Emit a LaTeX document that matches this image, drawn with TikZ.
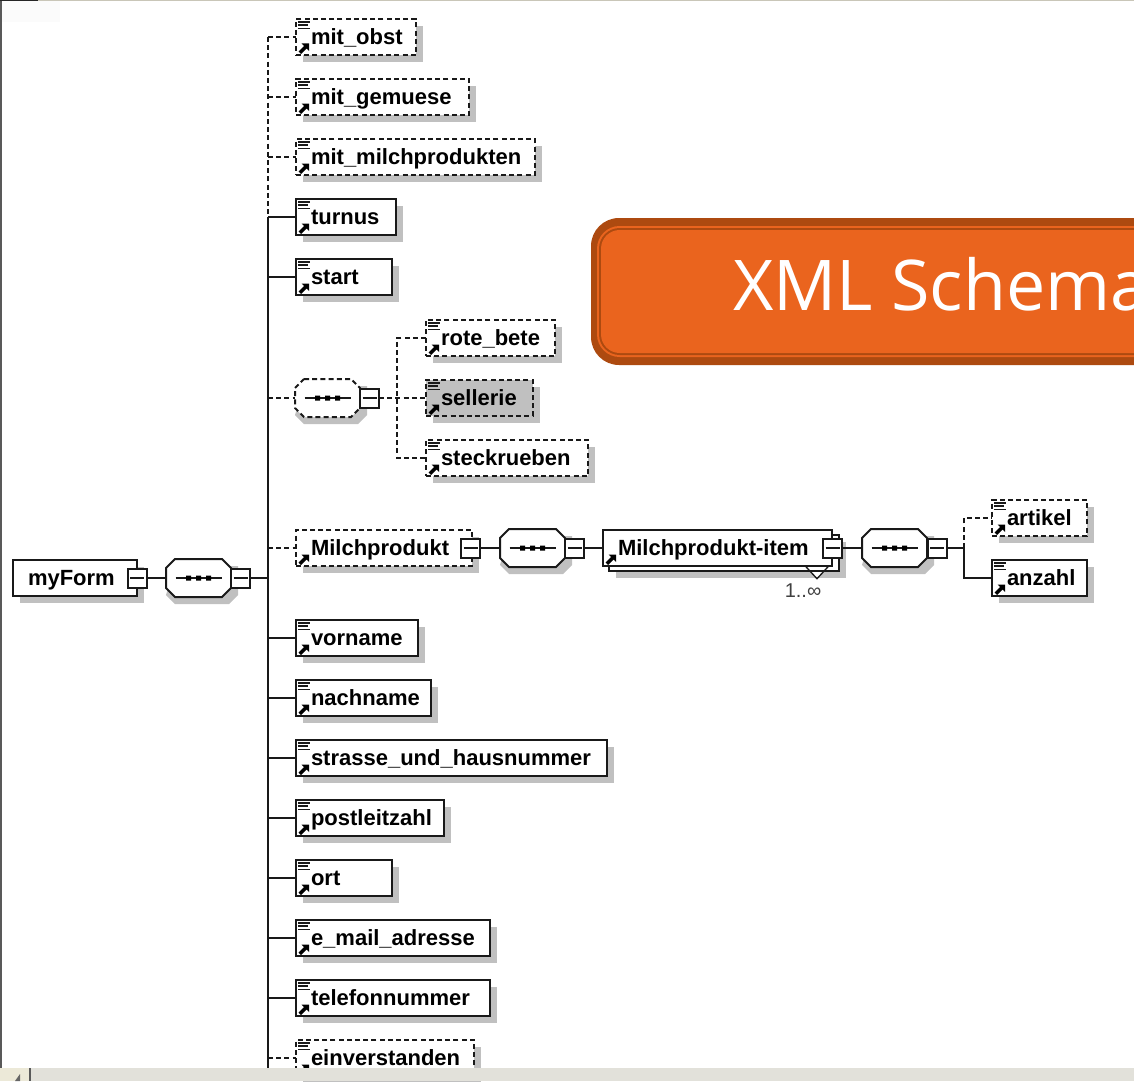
\documentclass[tikz,border=0pt]{standalone}
\usepackage{fontspec}
\setmainfont{Liberation Sans}
\newfontfamily\bannerfont{Open Sans}
\usetikzlibrary{shadows,shapes.geometric}
\definecolor{shadowgray}{HTML}{C0C0C0}
\definecolor{bannerdark}{HTML}{AD4A10}
\definecolor{bannermain}{HTML}{EA641E}
\definecolor{barbg}{HTML}{E2E1DA}
\definecolor{btnbg}{HTML}{ECE9D8}
\tikzset{
  x=0.75pt,y=-0.75pt,
  wire/.style={line width=1.5pt,draw=black!90},
  dwire/.style={wire,dash pattern=on 3.75pt off 2.4pt},
  shadowed/.style={drop shadow={shadow xshift=5.25pt,shadow yshift=-5.25pt,fill=shadowgray,opacity=1}},
  elembox/.style={rectangle,draw=black!90,line width=1.5pt,fill=white,shadowed,outer sep=0pt,
    minimum height=27pt,inner xsep=11.25pt,inner ysep=0pt,anchor=west,align=left,
    font=\fontsize{16.5}{19}\selectfont\bfseries},
  optbox/.style={elembox,dash pattern=on 3.75pt off 2.4pt},
  seqanchor/.style={rectangle,draw=none,fill=none,outer sep=0pt,inner sep=0pt,minimum width=48.75pt,minimum height=28.5pt,anchor=west},
  octline/.style={line width=1.5pt,draw=black!90,fill=white},
  octdash/.style={octline,dash pattern=on 3.75pt off 2.4pt},
  minusbox/.style={rectangle,draw=black!90,line width=1.5pt,fill=white,outer sep=0pt,minimum width=14.25pt,minimum height=14.25pt,inner sep=0pt,anchor=west},
  inline/.style={line width=1.1pt,draw=black!90},
}
\newcommand{\XTEXT}{}
\newcommand{\xelem}[5][elembox]{%
  \pgfmathsetlengthmacro{\xtw}{(#5-30)*0.75pt}%
  \pgfmathsetlengthmacro{\xmw}{#5*0.75pt}%
  \node[#1,minimum width=\xmw,text width=\xtw] (#2) at (#3,#4) {\strut\raisebox{-1.9pt}{\XTEXT}};}
\newcommand{\docicon}[1]{\begin{scope}[shift={(#1.west)}]
  \draw[inline] (2,-15) -- (14,-15) (2,-12) -- (12,-12) (2,-8.5) -- (14,-8.5);
  \end{scope}}
\newcommand{\arrowicon}[1]{\begin{scope}[shift={(#1.west)}]
  \fill[black] (13,6.5) -- (13,14) -- (10.7,11.5) -- (5,17) -- (2.5,14.5) -- (8,9) -- (5.5,6.5) -- cycle;
  \end{scope}}
\newcommand{\octa}[4][octline]{%
  \node[seqanchor] (#2) at (#3,#4) {};
  \begin{scope}[shift={(#2.center)}]
  \fill[shadowgray] (-23.5,-12) -- (23.5,-12) -- (39.5,-12) -- (39.5,17) -- (30.5,26) -- (-23.5,26) -- (-32.5,17) -- cycle;
  \path[#1] (-23.5,-19) -- (23.5,-19) -- (32.5,-10) -- (32.5,10) -- (23.5,19) -- (-23.5,19) -- (-32.5,10) -- (-32.5,-10) -- cycle;
  \draw[inline] (-23,0) -- (23,0);
  \fill[black] (-12.5,-2.5) rectangle (-7.5,2.5) (-2.5,-2.5) rectangle (2.5,2.5) (7.5,-2.5) rectangle (12.5,2.5);
  \end{scope}}
\newcommand{\minusicon}[1]{\draw[inline] ([xshift=-5.25pt]#1.center) -- ([xshift=5.25pt]#1.center);}
\newcommand{\rowel}[5][elembox]{\renewcommand{\XTEXT}{#5}\xelem[#1]{#2}{296}{#3}{#4}%
  \docicon{#2}\arrowicon{#2}}
\begin{document}
\begin{tikzpicture}
\useasboundingbox (0,0) rectangle (1134,1081);
\clip (0,0) rectangle (1134,1081);
\fill[white] (0,0) rectangle (1134,1081);
\fill[black!1.5] (0,0) rectangle (60,22);

% trunk
\coordinate (trunk) at (268,0);
\coordinate (trunkend) at (268,1068);

% banner
\path[fill=bannerdark,rounded corners=21pt] (591,218) rectangle (1190,365);
\path[fill=bannermain,rounded corners=17pt] (597,226) rectangle (1190,357);
\path[fill=bannerdark,rounded corners=15.5pt] (599,228) rectangle (1190,355);
\path[fill=bannermain,rounded corners=14pt] (601,230) rectangle (1190,353);
\node[anchor=base west,text=white,inner sep=0pt,font=\bannerfont\fontsize{52.5}{60}\selectfont] (banner) at (733,310) {XML Schema};

% root
\renewcommand{\XTEXT}{myForm}
\xelem{root}{13}{578}{124}
\octa{seqa}{166}{578}
\node[minusbox] (rootm) at (127.5,578) {};
\minusicon{rootm}
\node[minusbox] (seqam) at (231,578) {};
\minusicon{seqam}
\draw[wire] (rootm.east) -- (seqa.west);
\draw[wire] (seqam.east) -- (seqam.east -| trunk);

% rows
\rowel[optbox]{mitobst}{37}{120}{mit\_obst}
\rowel[optbox]{mitgemuese}{97}{173}{mit\_gemuese}
\rowel[optbox]{mitmilch}{157}{239}{mit\_milchprodukten}
\rowel{turnus}{217}{100}{turnus}
\rowel{start}{277}{96}{start}
\rowel{vorname}{638}{122}{vorname}
\rowel{nachname}{698}{135}{nachname}
\rowel{strasse}{758}{311}{strasse\_und\_hausnummer}
\rowel{plz}{818}{148}{postleitzahl}
\rowel{ort}{878}{96}{ort}
\rowel{email}{938}{194}{e\_mail\_adresse}
\rowel{telefon}{998}{194}{telefonnummer}
\rowel[optbox]{einv}{1058}{178}{einverstanden}

\renewcommand{\XTEXT}{Milchprodukt}
\xelem[optbox]{milch}{296}{548}{176}
\arrowicon{milch}

% choice group
\octa[octdash]{seqb}{295}{398}
\node[minusbox] (seqbm) at (360,398) {};
\minusicon{seqbm}
\renewcommand{\XTEXT}{rote\_bete}
\xelem[optbox]{rote}{426}{338}{129}\docicon{rote}\arrowicon{rote}
\renewcommand{\XTEXT}{sellerie}
\xelem[optbox,fill=shadowgray]{sellerie}{426}{398}{107}\docicon{sellerie}\arrowicon{sellerie}
\renewcommand{\XTEXT}{steckrueben}
\xelem[optbox]{steck}{426}{458}{162}\docicon{steck}\arrowicon{steck}
\coordinate (forkb) at (397,398);
\draw[dwire] (seqbm.east) -- (sellerie.west);
\draw[dwire] (rote.west) -- (rote.west -| forkb) -- (steck.west -| forkb) -- (steck.west);

% trunk lines
\draw[dwire] (mitobst.west -| trunk) -- (turnus.west -| trunk);
\draw[wire] (turnus.west -| trunk) -- (trunkend);
\foreach \n in {mitobst,mitgemuese,mitmilch,seqb,milch,einv}
  \draw[dwire] (\n.west -| trunk) -- (\n.west);
\foreach \n in {turnus,start,vorname,nachname,strasse,plz,ort,email,telefon}
  \draw[wire] (\n.west -| trunk) -- (\n.west);

% Milchprodukt chain
\node[minusbox] (milchm) at (461,548) {};
\minusicon{milchm}
\octa{seqc}{500}{548}
\node[minusbox] (seqcm) at (565,548) {};
\minusicon{seqcm}
\draw[wire] (milchm.east) -- (seqc.west);
% item
\node[elembox,minimum width=172.5pt,minimum height=27pt] (itemback) at (609,553) {};
\node[diamond,draw=black!90,line width=1pt,fill=white,minimum width=18pt,minimum height=19.5pt,inner sep=0pt] (rep) at (817,566) {};
\draw[wire] (itemback.south west) -- (itemback.south east);
\renewcommand{\XTEXT}{Milchprodukt-item}
\pgfmathsetlengthmacro{\xtw}{(229-30)*0.75pt}
\node[rectangle,draw=black!90,line width=1.5pt,fill=white,outer sep=0pt,minimum height=27pt,minimum width=171.75pt,inner xsep=11.25pt,inner ysep=0pt,anchor=west,align=left,text width=\xtw,font=\fontsize{16.5}{19}\selectfont\bfseries] (item) at (603,548) {\strut\raisebox{-1.9pt}{\XTEXT}};
\arrowicon{item}
\node[minusbox] (itemm) at (823,548) {};
\minusicon{itemm}
\node[inner sep=0pt,text=black!75,font=\fontsize{15}{18}\selectfont] (occ) at (803,591) {1..∞};
\draw[wire] (seqcm.east) -- (item.west);
\octa{seqd}{862}{548}
\node[minusbox] (seqdm) at (927.5,548) {};
\minusicon{seqdm}
\draw[wire] (itemm.east) -- (seqd.west);
\renewcommand{\XTEXT}{artikel}
\xelem[optbox]{artikel}{992}{518}{95}\docicon{artikel}\arrowicon{artikel}
\renewcommand{\XTEXT}{anzahl}
\xelem{anzahl}{992}{578}{95}\docicon{anzahl}\arrowicon{anzahl}
\coordinate (forkd) at (964,548);
\draw[wire] (seqdm.east) -- (forkd);
\draw[dwire] (forkd) -- (artikel.west -| forkd) -- (artikel.west);
\draw[wire] (forkd) -- (anzahl.west -| forkd) -- (anzahl.west);

% window chrome
\fill[barbg] (0,1068) rectangle (1134,1081);
\fill[btnbg] (0,1068) rectangle (30,1081);
\fill[black!65] (29,1068) rectangle (31,1081);
\fill[black!60] (20,1074) -- (20,1081) -- (15,1081) -- cycle;
\fill[black!65] (0,0) rectangle (2,1068);
\fill[btnbg!85!black] (0,0) rectangle (1134,1.5);
\fill[black!85] (0,0) rectangle (38,1.5);
\end{tikzpicture}
\end{document}
